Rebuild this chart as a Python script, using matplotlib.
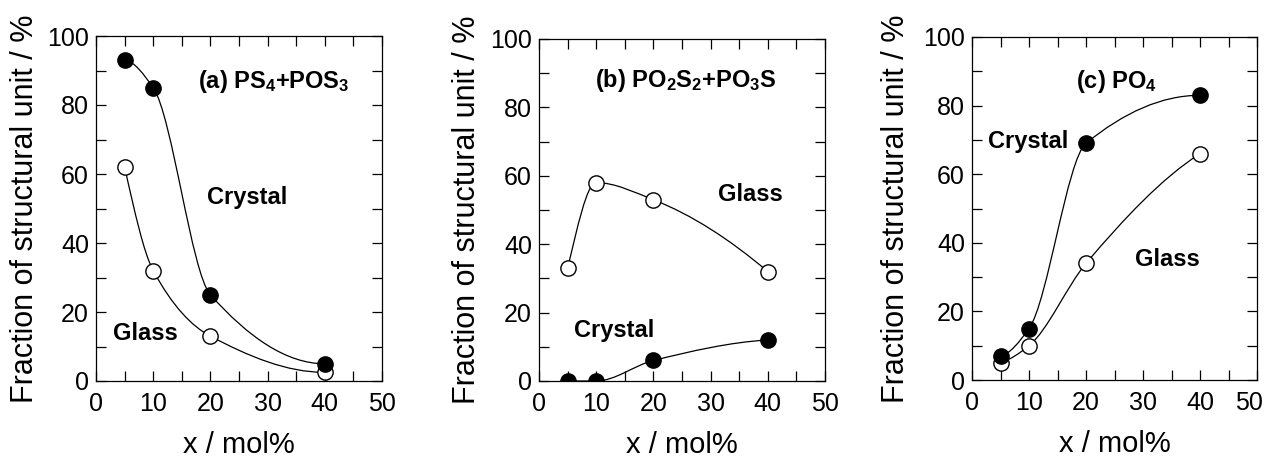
import matplotlib
matplotlib.use("Agg")
import matplotlib.pyplot as plt
from matplotlib.path import Path
from matplotlib.patches import PathPatch
from matplotlib.ticker import MultipleLocator
from matplotlib.transforms import ScaledTranslation
import numpy as np

FONT = ['Liberation Sans', 'DejaVu Sans']
plt.rcParams['font.family'] = FONT
plt.rcParams['mathtext.fontset'] = 'custom'
plt.rcParams['mathtext.rm'] = 'Liberation Sans:bold'
plt.rcParams['mathtext.it'] = 'Liberation Sans:bold'
plt.rcParams['mathtext.bf'] = 'Liberation Sans:bold'

# ---- data ----
x_mol = [5, 10, 20, 40]

a_crystal = [93, 85, 25, 5]
a_glass = [62, 32, 13, 2.5]

b_glass = [33, 58, 53, 32]
b_crystal = [0, 0, 6, 12]

c_crystal = [7, 15, 69, 83]
c_glass = [5, 10, 34, 66]

titles = ['(a) PS$_4$+POS$_3$', '(b) PO$_2$S$_2$+PO$_3$S', '(c) PO$_4$']
xticks = [0, 10, 20, 30, 40, 50]
yticks = [0, 20, 40, 60, 80, 100]


def pchip_slopes(xs, ys):
    h = np.diff(xs)
    d = np.diff(ys) / h
    n = len(xs)
    m = np.zeros(n)
    for i in range(1, n - 1):
        if d[i - 1] * d[i] <= 0:
            m[i] = 0.0
        else:
            w1 = 2 * h[i] + h[i - 1]
            w2 = h[i] + 2 * h[i - 1]
            m[i] = (w1 + w2) / (w1 / d[i - 1] + w2 / d[i])

    def end(h0, h1, d0, d1):
        s = ((2 * h0 + h1) * d0 - h0 * d1) / (h0 + h1)
        if np.sign(s) != np.sign(d0):
            s = 0.0
        elif np.sign(d0) != np.sign(d1) and abs(s) > abs(3 * d0):
            s = 3 * d0
        return s
    m[0] = end(h[0], h[1], d[0], d[1])
    m[-1] = end(h[-1], h[-2], d[-1], d[-2])
    return m


def smooth_path(xs, ys):
    xs = np.asarray(xs, float)
    ys = np.asarray(ys, float)
    m = pchip_slopes(xs, ys)
    verts = [(xs[0], ys[0])]
    codes = [Path.MOVETO]
    for i in range(len(xs) - 1):
        h = (xs[i + 1] - xs[i]) / 3.0
        verts += [(xs[i] + h, ys[i] + h * m[i]),
                  (xs[i + 1] - h, ys[i + 1] - h * m[i + 1]),
                  (xs[i + 1], ys[i + 1])]
        codes += [Path.CURVE4] * 3
    return Path(verts, codes)


fig = plt.figure(figsize=(12.68, 4.59), dpi=100)
rects = [
    (96 / 1268, 1 - 381 / 459, 286 / 1268, 345 / 459),
    (539 / 1268, 1 - 381 / 459, 286 / 1268, 342 / 459),
    (972 / 1268, 1 - 380 / 459, 285 / 1268, 343 / 459),
]
ylab_x = [-0.196, -0.199, -0.214]

panels = [
    (a_crystal, a_glass,
     [('Crystal', 19.4, 53.3), ('Glass', 3.0, 13.9)], (17.8, 86.7)),
    (b_crystal, b_glass,
     [('Glass', 31.3, 54.4), ('Crystal', 6.1, 14.9)], (9.8, 88.0)),
    (c_crystal, c_glass,
     [('Crystal', 2.8, 69.4), ('Glass', 28.6, 35.0)], (18.2, 86.9)),
]

for k, (rect, (cry, gla, labels, tpos)) in enumerate(zip(rects, panels)):
    ax = fig.add_axes(rect)
    ax.set_xlim(0, 50)
    ax.set_ylim(0, 100)
    for ys in (cry, gla):
        ax.add_patch(PathPatch(smooth_path(x_mol, ys), facecolor='none',
                               edgecolor='black', lw=0.9, zorder=2))
    ax.plot(x_mol, gla, 'o', ms=11, mfc='white', mec='black', mew=1.0,
            zorder=3, ls='none')
    ax.plot(x_mol, cry, 'o', ms=11, mfc='black', mec='black', mew=1.0,
            zorder=4, ls='none')
    ax.set_xticks(xticks)
    ax.set_yticks(yticks)
    ax.xaxis.set_minor_locator(MultipleLocator(5))
    ax.yaxis.set_minor_locator(MultipleLocator(10))
    ax.tick_params(which='both', direction='in', top=True, right=True,
                   labelsize=18, width=0.9, length=7)
    ax.tick_params(axis='x', pad=8)
    ax.tick_params(axis='y', pad=5)
    for s in ax.spines.values():
        s.set_linewidth(0.9)
    ax.set_xlabel('x / mol%', fontsize=21)
    ax.xaxis.set_label_coords(0.5, -0.145)
    ax.set_ylabel('Fraction of structural unit / %', fontsize=22)
    ax.yaxis.set_label_coords(ylab_x[k], 0.5)
    ax.text(tpos[0], tpos[1], titles[k], fontsize=17, fontweight='bold',
            ha='left', va='center')
    for (t, tx, ty) in labels:
        ax.text(tx, ty, t, fontsize=17, fontweight='bold', ha='left',
                va='center')
    if k == 2:
        last = ax.get_xticklabels()[-1]
        last.set_transform(last.get_transform() +
                           ScaledTranslation(-6 / 72, 0, fig.dpi_scale_trans))

fig.savefig('out.png', dpi=100)
